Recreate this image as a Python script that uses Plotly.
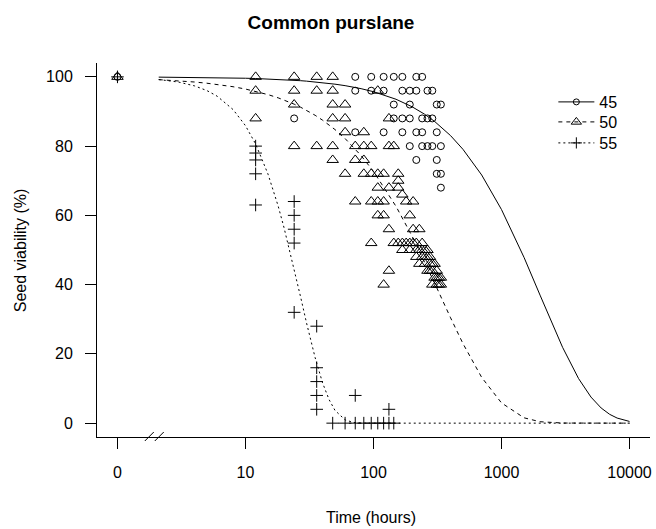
import plotly.graph_objects as go

# ---------------- data ----------------
# Observed points: time (hours) and seed viability (%); time 0 sits on the broken axis
t45 = [0, 24, 72, 72, 72, 96, 96, 120, 120, 120, 144, 144, 144,
       168, 168, 168, 168, 192, 192, 192, 192, 216, 216, 216, 216,
       240, 240, 240, 240, 264, 264, 264, 288, 288, 288,
       312, 312, 312, 312, 336, 336, 336, 336]
v45 = [100, 88, 100, 96, 84, 100, 96, 100, 96, 84, 100, 92, 88,
       100, 96, 88, 84, 96, 92, 88, 80, 100, 96, 84, 76,
       100, 88, 84, 80, 96, 88, 80, 96, 88, 80,
       92, 84, 76, 72, 92, 80, 72, 68]

t50 = [0, 12, 12, 12, 24, 24, 24, 24, 36, 36, 36,
       48, 48, 48, 48, 48, 48, 60, 60, 60, 60, 72, 72, 72,
       84, 84, 84, 84, 96, 96, 96, 96, 108, 108, 108, 108, 108,
       120, 120, 120, 120, 132, 132, 132, 132, 132, 144, 144,
       156, 156, 156, 156, 168, 168, 168, 180, 180, 192, 192, 192,
       204, 204, 204, 216, 216, 216, 228, 228, 228, 240, 240, 240,
       252, 252, 252, 264, 264, 264, 276, 276, 276, 288, 288, 288,
       300, 300, 312, 312, 312, 324, 324, 336, 336]
v50 = [100, 100, 96, 88, 100, 96, 92, 80, 100, 96, 80,
       100, 96, 92, 88, 80, 76, 92, 88, 84, 72, 80, 76, 64,
       84, 80, 76, 72, 80, 72, 64, 52, 96, 72, 68, 64, 60,
       72, 64, 60, 40, 88, 80, 68, 56, 44, 80, 52,
       72, 70, 68, 52, 66, 52, 50, 64, 52, 60, 52, 50,
       64, 56, 52, 52, 50, 48, 56, 50, 46, 52, 50, 48,
       50, 48, 46, 50, 48, 44, 48, 46, 44, 46, 44, 40,
       46, 42, 44, 42, 40, 42, 40, 42, 40]

t55 = [0, 12, 12, 12, 12, 12, 24, 24, 24, 24, 24,
       36, 36, 36, 36, 36, 48, 60, 72, 72, 84, 96, 108, 120, 132, 132, 144]
v55 = [100, 80, 78, 76, 72, 63, 64, 60, 56, 52, 32,
       28, 16, 12, 8, 4, 0, 0, 8, 0, 0, 0, 0, 0, 4, 0, 0]

# Fitted curves, values at these times
curve_t = [2.1, 3, 4, 5, 6, 8, 10, 12, 15, 18, 20, 24, 27, 30, 35, 40, 45, 50,
           60, 70, 75, 80, 100, 150, 200, 250, 300, 400, 500, 700, 1000, 1500,
           2000, 3000, 4000, 5000, 6000, 7000, 8000, 10000]
curve45 = [99.92, 99.89, 99.85, 99.81, 99.77, 99.69, 99.60, 99.52, 99.39, 99.27,
           99.18, 99.01, 98.89, 98.76, 98.54, 98.33, 98.11, 97.89, 97.46, 97.02,
           96.80, 96.59, 95.71, 93.53, 91.37, 89.24, 87.13, 83.03, 79.07, 71.66,
           61.67, 47.85, 36.97, 21.89, 12.87, 7.53, 4.38, 2.54, 1.47, 0.49]
curve50 = [99.19, 98.87, 98.51, 98.16, 97.82, 97.15, 96.48, 95.83, 94.87, 93.94,
           93.32, 92.11, 91.22, 90.34, 88.90, 87.49, 86.13, 84.78, 82.18, 79.68,
           78.45, 77.26, 72.69, 62.59, 54.02, 46.72, 40.46, 30.42, 22.97, 13.21,
           5.84, 1.54, 0.41, 0.03, 0.0, 0.0, 0.0, 0.0, 0.0, 0.0]
curve55 = [99.23, 98.49, 97.39, 96.03, 94.43, 90.55, 85.89, 80.62, 71.90, 62.68,
           56.45, 44.49, 36.31, 28.90, 18.91, 11.63, 6.78, 3.70, 0.94, 0.19,
           0.08, 0.03, 0.0, 0.0, 0.0, 0.0, 0.0, 0.0, 0.0, 0.0,
           0.0, 0.0, 0.0, 0.0, 0.0, 0.0, 0.0, 0.0, 0.0, 0.0]

groups = ["45", "50", "55"]
x_tickvals = [1, 10, 100, 1000, 10000]
x_ticktext = ["0", "10", "100", "1000", "10000"]
y_tickvals = [0, 20, 40, 60, 80, 100]
y_ticktext = ["0", "20", "40", "60", "80", "100"]


def on_axis(ts):
    # time 0 is drawn at the broken-axis position (tick "0")
    return [1 if t == 0 else t for t in ts]


FONT = "Liberation Sans, Arial, sans-serif"
dashes = ["solid", "4px,4px", "2px,3px"]
symbols = ["circle-open", "triangle-up-open", "cross-thin-open"]
msizes = [7, 10, 9]
L, R, T, B = 97, 4, 63, 92
PW, PH = 656 - L - R, 529 - T - B


def px(x):
    return (x - L) / PW


def py(y):
    return (529 - B - y) / PH


fig = go.Figure()
for cv, d in zip([curve45, curve50, curve55], dashes):
    fig.add_trace(go.Scatter(x=curve_t, y=cv, mode="lines",
                             line=dict(color="black", width=1, dash=d),
                             showlegend=False, hoverinfo="skip"))
for ts, vs, s, ms in zip([t45, t50, t55], [v45, v50, v55], symbols, msizes):
    fig.add_trace(go.Scatter(x=on_axis(ts), y=vs, mode="markers",
                             marker=dict(symbol=s, size=ms, color="black",
                                         line=dict(color="black", width=1)),
                             showlegend=False))
legend_names = ["legend", "legend2", "legend3"]
for g, d, s, ms, ln in zip(groups, dashes, symbols, msizes, legend_names):
    fig.add_trace(go.Scatter(x=[None], y=[None], mode="lines+markers", name=g,
                             legend=ln,
                             line=dict(color="black", width=1, dash=d),
                             marker=dict(symbol=s, size=ms - 1, color="black",
                                         line=dict(color="black", width=1))))

# axis-break slashes (decoration), in paper coordinates
for x0 in [145, 155]:
    fig.add_shape(type="line", xref="paper", yref="paper",
                  x0=px(x0), x1=px(x0 + 9), y0=py(441), y1=py(432),
                  line=dict(color="black", width=1), layer="above")

leg_common = dict(xanchor="left", yanchor="top", bgcolor="rgba(0,0,0,0)",
                  font=dict(size=16), itemwidth=36)
fig.update_layout(
    width=656, height=529,
    margin=dict(l=L, r=R, t=T, b=B),
    paper_bgcolor="white", plot_bgcolor="white",
    font=dict(family=FONT, size=16, color="black"),
    title=dict(text="<b>Common purslane</b>", font=dict(size=19, color="black"),
               x=331 / 656, xanchor="center", y=1 - 22 / 529, yanchor="middle"),
    showlegend=True,
    legend=dict(x=px(555), y=py(85), **leg_common),
    legend2=dict(x=px(555), y=py(105), **leg_common),
    legend3=dict(x=px(555), y=py(126), **leg_common),
    annotations=[
        dict(text="Time (hours)", xref="paper", yref="paper", x=px(372),
             y=py(517), xanchor="center", yanchor="middle",
             showarrow=False, font=dict(size=16)),
        dict(text="Seed viability (%)", xref="paper", yref="paper",
             x=px(20), y=0.5, xanchor="center", yanchor="middle",
             textangle=-90, showarrow=False, font=dict(size=16)),
    ],
)
fig.update_xaxes(type="log", range=[-0.16, 4.16], tickvals=x_tickvals, ticktext=x_ticktext,
                 ticks="outside", ticklen=11, tickwidth=1, tickcolor="black",
                 showline=True, linecolor="black", linewidth=1, showgrid=False,
                 zeroline=False, ticklabelstandoff=10)
fig.update_yaxes(range=[-4, 104], tickvals=y_tickvals, ticktext=y_ticktext,
                 ticks="outside", ticklen=11, tickwidth=1, tickcolor="black",
                 showline=True, linecolor="black", linewidth=1, showgrid=False,
                 zeroline=False, ticklabelstandoff=9)

fig.write_html("out.html", config={"displayModeBar": False},
               post_script="document.body.style.margin='0';")
